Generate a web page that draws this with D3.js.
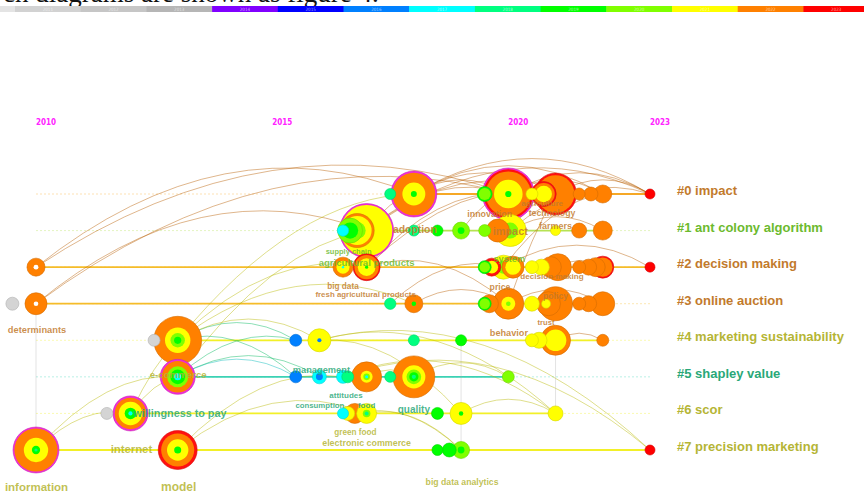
<!DOCTYPE html>
<html><head><meta charset="utf-8">
<script src="https://cdn.jsdelivr.net/npm/d3@7"></script>
<style>body{margin:0;background:#fff;overflow:hidden}svg{display:block}</style>
</head><body>
<svg id="chart" width="864" height="493"></svg>
<script>
// ---------- data ----------
const legendYears = [2010,2011,2012,2013,2014,2015,2016,2017,2018,2019,2020,2021,2022,2023];
const legendColors = ["#e4e4e4","#d2d2d2","#c6c6c6","#b6b6b6","#8000ff","#0000ff","#0080ff","#00ffff","#00ff80","#00ff00","#80ff00","#ffff00","#ff8000","#ff0000"];
const axisYears = [2010, 2015, 2020, 2023];
const clusterNames = ["#0 impact","#1 ant colony algorithm","#2 decision making","#3 online auction","#4 marketing sustainability","#5 shapley value","#6 scor","#7 precision marketing"];
const clusterColors = ["#c27a2c","#6cba2e","#c27a2c","#c27a2c","#b5b535","#2aa878","#b5b535","#b5b535"];
const rowLineColors = ["#f6a826","#b6e254","#f5bc2a","#f5bc2a","#f2f028","#3cd2b4","#f2f028","#f2f028"];
const rowSpanStart = [2017.5, 2016.5, 2010, 2010, 2013, 2013, 2012, 2010];
const rowSpanEnd   = [2023, 2022, 2023, 2022, 2022, 2020, 2021, 2023];

// nodes: [year, citations, rings(outer->inner: [year | C=centrality | B=burst | X=early | W=hole, fraction])]
const row0Nodes = [
 [2017.5, 4.5, [[2018,1]]],
 [2018, 78, [["C",1],[2022,0.93],[2021,0.5],[2019,0.13]]],
 [2019.5, 8.3, [[2019,1],[2020,0.8]]],
 [2020, 100, [["C",1],["B",0.95],[2022,0.87],[2021,0.55],[2019,0.12]]],
 [2021, 65, [["B",1],[2022,0.9]]],
 [2020.75, 23, [["B",1],[2022,0.88],[2021,0.66]]],
 [2020.5, 5.3, [[2021,1]]],
 [2021.5, 5.3, [[2022,1]]],
 [2021.75, 7.2, [[2022,1]]],
 [2022, 12, [[2022,1]]],
 [2023, 3.7, [[2023,1]]]
];
const row1Nodes = [
 [2016.5, 4.8, [[2017,1]]],
 [2016.65, 23, [[2020,1],[2019,0.65]]],
 [2016.8, 42.8, [[2022,1],[2021,0.85],[2020,0.5]]],
 [2017, 108, [["C",1],[2021,0.95],[2019,0.2]]],
 [2018, 4.5, [[2018,1]]],
 [2018.5, 4.5, [[2019,1]]],
 [2019, 10.7, [[2020,1],[2019,0.4]]],
 [2019.5, 5.3, [[2020,1]]],
 [2019.78, 19.6, [[2022,1]]],
 [2020.04, 37.9, [[2021,1],[2020,0.5]]],
 [2021, 3.7, [[2021,1]]],
 [2021.5, 8.3, [[2022,1]]],
 [2022, 13.4, [[2022,1]]]
];
const row2Nodes = [
 [2010, 12, [[2022,1],["W",0.27]]],
 [2016.5, 14.8, [[2022,1],[2021,0.65],[2017,0.12]]],
 [2017, 27, [["B",1],[2022,0.9],[2021,0.65],[2019,0.12]]],
 [2019.5, 6.25, [[2019,1],[2020,0.8]]],
 [2019.65, 12, [["B",1],[2021,0.7]]],
 [2019.9, 21.3, [[2021,1],[2020,0.55]]],
 [2020.1, 17.9, [[2022,1],[2021,0.7]]],
 [2020.5, 6.25, [[2021,1]]],
 [2020.7, 9.5, [[2021,1]]],
 [2020.9, 16.3, [[2022,1]]],
 [2021.05, 27, [[2022,1]]],
 [2021.5, 6.25, [[2022,1]]],
 [2021.7, 9.5, [[2022,1]]],
 [2021.85, 13.4, [[2022,1]]],
 [2022, 17.9, [["B",1],[2022,0.88]]],
 [2023, 3.7, [[2023,1]]]
];
const row3Nodes = [
 [2009.5, 6.25, [["X",1]]],
 [2010, 17.9, [[2022,1],["W",0.21]]],
 [2017.5, 4.8, [[2018,1]]],
 [2018, 12, [[2022,1],[2019,0.25]]],
 [2019.5, 6.25, [[2019,1],[2020,0.8]]],
 [2019.6, 12, [[2022,1]]],
 [2020, 35.5, [[2022,1],[2021,0.45],[2020,0.15]]],
 [2020.5, 8.3, [[2021,1]]],
 [2020.8, 3, [[2021,1]]],
 [2020.85, 21.3, [[2022,1]]],
 [2021, 42.8, [[2022,1]]],
 [2021.5, 6.25, [[2022,1]]],
 [2021.7, 9.5, [[2022,1]]],
 [2022, 21.3, [[2022,1]]]
];
const row4Nodes = [
 [2012.5, 5.3, [["X",1]]],
 [2013, 85, [[2022,1],[2021,0.53],[2020,0.3],[2019,0.15]]],
 [2015.5, 5.3, [[2016,1]]],
 [2016, 19.6, [[2021,1],[2016,0.18]]],
 [2018, 4.5, [[2018,1]]],
 [2019, 4.5, [[2019,1]]],
 [2020.5, 6.25, [[2021,1]]],
 [2020.65, 9.5, [[2021,1]]],
 [2021, 33.3, [[2022,1],[2021,0.72]]],
 [2022, 5.3, [[2022,1]]]
];
const row5Nodes = [
 [2013, 45.3, [["C",1],[2022,0.9],[2020,0.6],[2019,0.42],[2017,0.2]]],
 [2015.5, 5.3, [[2016,1]]],
 [2016, 7.2, [[2017,1],[2016,0.5]]],
 [2016.5, 6.25, [[2017,1]]],
 [2016.6, 5.3, [[2018,1]]],
 [2017, 33.3, [[2022,1],[2021,0.4],[2020,0.22],[2017,0.1]]],
 [2017.5, 4.5, [[2018,1]]],
 [2018, 65, [[2022,1],[2021,0.55],[2020,0.35],[2019,0.22],[2018,0.1]]],
 [2020, 5.3, [[2020,1]]]
];
const row6Nodes = [
 [2011.5, 5.3, [["X",1]]],
 [2012, 45.3, [["C",1],[2022,0.9],[2021,0.67],[2019,0.33],[2017,0.12]]],
 [2016.5, 4.5, [[2017,1]]],
 [2016.75, 14.8, [[2022,1]]],
 [2017, 14.8, [[2021,1],[2020,0.38],[2018,0.2]]],
 [2016.6, 7.2, [[2021,1]]],
 [2018.5, 5.3, [[2019,1]]],
 [2019, 17.9, [[2021,1],[2019,0.2]]],
 [2021, 8.3, [[2021,1]]]
];
const row7Nodes = [
 [2010, 78, [["C",1],[2022,0.94],[2021,0.53],[2019,0.18],[2018,0.07]]],
 [2013, 56, [["B",1],[2022,0.85],[2021,0.55],[2019,0.18]]],
 [2018.5, 4.5, [[2019,1]]],
 [2018.75, 7.2, [[2019,1]]],
 [2019, 10.7, [[2020,1],[2019,0.4]]],
 [2023, 3.7, [[2023,1]]]
];
const rowNodes = [row0Nodes,row1Nodes,row2Nodes,row3Nodes,row4Nodes,row5Nodes,row6Nodes,row7Nodes];

// links: [row, year, row, year, colour-year]
const links = [
 [2,2010,0,2020,2022],[2,2010,0,2018,2022],[3,2010,1,2017,2022],[3,2010,0,2020,2022],
 [0,2018,0,2020,2022],[0,2018,0,2021,2022],[0,2018,0,2023,2022],[0,2020,0,2023,2022],
 [0,2021,0,2023,2022],[0,2020,0,2022,2022],[1,2017,0,2020,2022],[1,2017,0,2021,2022],
 [1,2017,0,2018,2022],[2,2017,0,2020,2022],[1,2020,0,2021,2022],[1,2020,1,2022,2022],
 [2,2020,2,2023,2022],[2,2021,2,2022,2022],[3,2020,3,2022,2022],[3,2018,3,2020,2022],
 [2,2017,3,2020,2022],[3,2017.5,2,2020,2022],[4,2013,0,2018,2021],[5,2013,1,2017,2021],
 [4,2013,2,2017,2021],[4,2013,3,2018,2021],[6,2012,4,2013,2021],
 [1,2017,0,2023,2022],[2,2017,0,2021,2022],[0,2018,0,2022,2022],[1,2020,0,2023,2022],
 [3,2020,0,2021,2022],[2,2020,0,2022,2022],[1,2019,0,2020,2022],
 [7,2010,5,2013,2021],[7,2010,6,2012,2021],[6,2012,5,2013,2021],[7,2013,5,2016.5,2021],
 [7,2013,6,2017,2021],[4,2013,4,2015.5,2018],[4,2013,5,2015.5,2018],[5,2013,5,2015.5,2017],
 [5,2013,4,2015.5,2018],[5,2013,5,2016,2018],[4,2013,4,2016,2021],[4,2016,6,2019,2021],
 [4,2016,6,2021,2021],[4,2016,7,2023,2021],[5,2016.5,7,2023,2021],[6,2019,6,2021,2021],
 [5,2017,5,2018,2021],[6,2017,7,2019,2021],[6,2016.75,7,2019,2021],[5,2018,5,2020,2021],
 [4,2019,7,2019,"X"],[4,2021,6,2021,"X"],[3,2010,7,2010,"X"],[4,2021,4,2022,2022],
 [5,2016.5,6,2021,2021]
];

// node labels: [text, row, anchor year, colour cluster]
const nodeLabels = [
 ["determinants",3,2010,3],["e-commerce",5,2013,4],["willingness to pay",6,2012,5],
 ["internet",6,2012,6],["information",7,2010,7],["model",7,2013,7],
 ["management",5,2016,5],["attitudes",5,2016.5,5],["consumption",5,2016,5],
 ["food",6,2017,5],["quality",5,2018,5],["green food",6,2016.75,6],
 ["electronic commerce",6,2017,6],["big data analytics",7,2019,7],["adoption",0,2018,0],
 ["supply chain",1,2017,1],["agricultural products",2,2017,1],["big data",2,2016.5,2],
 ["fresh agricultural products",2,2017,2],["innovation",0,2019.5,0],["impact",1,2020,0],
 ["agriculture",0,2020.75,0],["technology",0,2021,0],["farmers",1,2021,0],
 ["system",2,2020,1],["decision making",2,2021,2],["price",2,2020,2],
 ["policy",3,2021,3],["trust",3,2021,3],["behavior",4,2020.5,3]
];
// label layout: [dx, dy, font size]
const labelLayout = [
 [1,29,9.3],[0.5,1.5,9.7],[49.5,3.6,10.8],
 [1,39.6,11.3],[0.5,41,11.5],[1,41,12],
 [2,-4,9.3],[3,21,8],[0.5,31,7.8],
 [0,-5.4,8],[0,36,10],[0.6,21.6,8.2],
 [0,32.6,8.9],[1,35,8.7],[1,39,10.4],
 [-18,23.4,7.5],[0,-1,9.6],[0,22,8.2],
 [-1,30,7.9],[5,23,8.9],[2,4,10.9],
 [-1.5,12,8.1],[-3.5,22,8.75],[0,-1.6,9],
 [1,-5,9.2],[-3.5,12,8.1],[-8.3,23,8.7],
 [0,-4.7,8.6],[-9.5,21.3,7.6],[-23,-4.3,9.2]
];

// ---------- drawing ----------
const svg = d3.select("#chart");
const x = d3.scaleLinear().domain([2010, 2023]).range([36, 650]);
const y = d3.scaleLinear().domain([0, 7]).range([194, 450]);
const r = d3.scaleSqrt().domain([0, 100]).range([0, 26]);
const legendX = d3.scaleLinear().domain([2010, 2024]).range([-50.7, 869.1]);
const yearColor = d3.scaleOrdinal().domain(legendYears).range(legendColors);
const special = {C:"#f02ad8", B:"#ff1010", X:"#d4d4d4", W:"#ffffff"};
const ringColor = k => special[k] || yearColor(k);

// clipped text line at the very top (only its lower edge is inside the picture)
svg.append("text").attr("x", 3).attr("y", 1.5)
  .attr("font-family", "Liberation Serif, Times New Roman, serif").attr("font-size", 27)
  .attr("fill", "#111").text("ch diagrams are shown as figure 4.");

// colour legend bar
const lg = svg.append("g");
lg.selectAll("rect").data(legendYears).join("rect")
  .attr("x", d => legendX(d)).attr("y", 6)
  .attr("width", d => legendX(d + 1) - legendX(d) + 0.5).attr("height", 6)
  .attr("fill", d => yearColor(d));
lg.selectAll("text").data(legendYears).join("text")
  .attr("x", d => (legendX(d) + legendX(d + 1)) / 2).attr("y", 11)
  .attr("text-anchor", "middle").attr("font-size", 4.5).attr("font-family", "DejaVu Sans Condensed, sans-serif")
  .attr("fill", "#fff").attr("fill-opacity", 0.6).text(d => d);

// year axis labels
svg.append("g").selectAll("text").data(axisYears).join("text")
  .attr("x", d => x(d)).attr("y", 125)
  .attr("font-family", "Liberation Sans Narrow, DejaVu Sans Condensed, sans-serif")
  .attr("font-weight", "bold").attr("font-size", 8).attr("fill", "#ff22ff").text(d => d);

// row lines
const rows = d3.range(clusterNames.length);
svg.append("g").selectAll("line").data(rows).join("line")
  .attr("x1", x(2010)).attr("x2", x(2023)).attr("y1", d => y(d)).attr("y2", d => y(d))
  .attr("stroke", d => rowLineColors[d]).attr("stroke-opacity", 0.45)
  .attr("stroke-width", 0.8).attr("stroke-dasharray", "2,2");
svg.append("g").selectAll("line").data(rows).join("line")
  .attr("x1", d => x(rowSpanStart[d])).attr("x2", d => x(rowSpanEnd[d]))
  .attr("y1", d => y(d)).attr("y2", d => y(d))
  .attr("stroke", d => rowLineColors[d]).attr("stroke-width", 1.8);

// node lookup
function findNode(row, yr) {
  return rowNodes[row].reduce((a, b) => Math.abs(b[0] - yr) < Math.abs(a[0] - yr) ? b : a);
}
function arc(l) {
  const a = findNode(l[0], l[1]), b = findNode(l[2], l[3]);
  const x1 = x(a[0]), y1 = y(l[0]), x2 = x(b[0]), y2 = y(l[2]);
  const dx = Math.abs(x2 - x1), h = Math.min(0.3 * dx, 120);
  const p = d3.path();
  p.moveTo(x1, y1);
  p.quadraticCurveTo((x1 + x2) / 2, (y1 + y2) / 2 - h, x2, y2);
  return p.toString();
}
svg.append("g").selectAll("path").data(links).join("path")
  .attr("d", arc).attr("fill", "none")
  .attr("stroke", d => d[4] === "X" ? "#b0b0b0" : d3.color(yearColor(d[4])).darker(0.9))
  .attr("stroke-opacity", d => d[4] === "X" ? 0.35 : 0.45).attr("stroke-width", 1);

// nodes
const allNodes = [];
rowNodes.forEach((list, row) => list.forEach(n => allNodes.push({row, year: n[0], size: n[1], rings: n[2]})));
allNodes.sort((a, b) => b.size - a.size);
const ng = svg.append("g");
allNodes.forEach(n => {
  const cx = x(n.year), cy = y(n.row), R = r(n.size);
  n.rings.forEach((ring, i) => {
    const c = ringColor(ring[0]);
    ng.append("circle").attr("cx", cx).attr("cy", cy).attr("r", R * ring[1])
      .attr("fill", c)
      .attr("stroke", i === 0 ? (ring[0] === "X" ? "#b0b0b0" : d3.color(c).darker(0.5)) : "none")
      .attr("stroke-width", i === 0 ? 0.6 : 0);
  });
});

// node labels
svg.append("g").selectAll("text").data(nodeLabels).join("text")
  .attr("x", (d, i) => x(d[2]) + labelLayout[i][0])
  .attr("y", (d, i) => y(d[1]) + labelLayout[i][1])
  .attr("font-size", (d, i) => labelLayout[i][2])
  .attr("text-anchor", "middle").attr("font-weight", "bold")
  .attr("font-family", "Liberation Sans, Arial, sans-serif")
  .attr("fill", d => clusterColors[d[3]]).attr("fill-opacity", 0.85)
  .text(d => d[0]);

// cluster labels
svg.append("g").selectAll("text").data(clusterNames).join("text")
  .attr("x", 677).attr("y", (d, i) => y(i) + 1)
  .attr("font-size", 13).attr("font-weight", "bold")
  .attr("font-family", "Liberation Sans, Arial, sans-serif")
  .attr("fill", (d, i) => clusterColors[i]).text(d => d);
</script>
</body></html>
